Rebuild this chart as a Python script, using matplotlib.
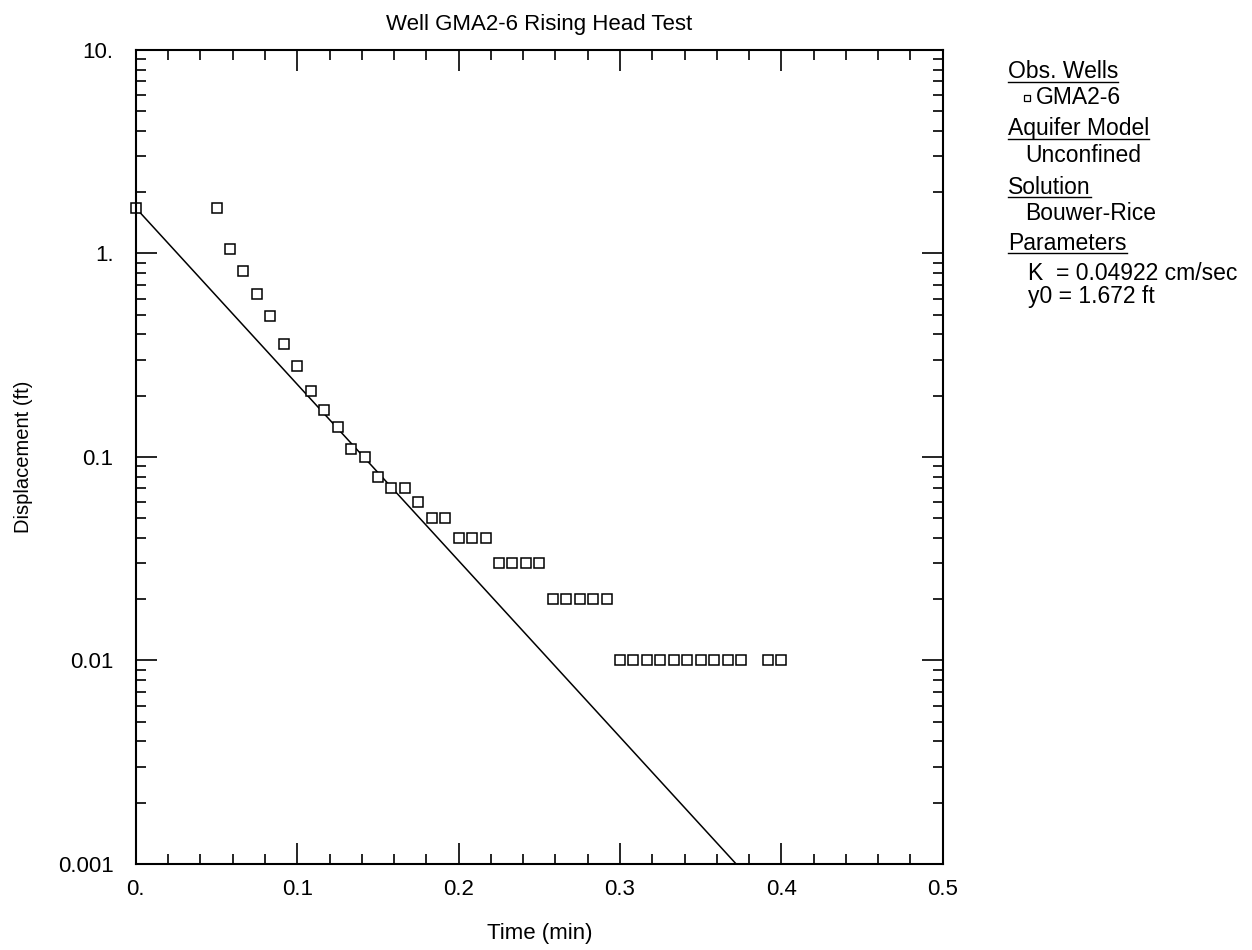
import matplotlib
matplotlib.use("Agg")
import matplotlib.pyplot as plt
from matplotlib.ticker import FixedLocator, FixedFormatter, LogLocator, NullFormatter, MultipleLocator

plt.rcParams['font.family'] = ['Liberation Sans', 'DejaVu Sans']

# datos de la prueba (tiempo en min, desplazamiento en ft)
tiempo = [0.0, 0.05, 0.0583, 0.0667, 0.075, 0.0833, 0.0917, 0.1, 0.1083, 0.1167,
          0.125, 0.1333, 0.1417, 0.15, 0.1583, 0.1667, 0.175, 0.1833, 0.1917,
          0.2, 0.2083, 0.2167, 0.225, 0.2333, 0.2417, 0.25, 0.2583, 0.2667,
          0.275, 0.2833, 0.2917, 0.3, 0.3083, 0.3167, 0.325, 0.3333, 0.3417,
          0.35, 0.3583, 0.3667, 0.375, 0.3917, 0.4]
desplazamiento = [1.672, 1.68, 1.05, 0.82, 0.63, 0.49, 0.36, 0.28, 0.21, 0.17,
                  0.14, 0.11, 0.10, 0.08, 0.07, 0.07, 0.06, 0.05, 0.05,
                  0.04, 0.04, 0.04, 0.03, 0.03, 0.03, 0.03, 0.02, 0.02,
                  0.02, 0.02, 0.02, 0.01, 0.01, 0.01, 0.01, 0.01, 0.01,
                  0.01, 0.01, 0.01, 0.01, 0.01, 0.01]

# recta de ajuste Bouwer-Rice
ajuste_t = [0.0, 0.372]
ajuste_y = [1.672, 0.001]

ticks_x = [0.0, 0.1, 0.2, 0.3, 0.4, 0.5]
etiquetas_x = ["0.", "0.1", "0.2", "0.3", "0.4", "0.5"]
ticks_y = [0.001, 0.01, 0.1, 1.0, 10.0]
etiquetas_y = ["0.001", "0.01", "0.1", "1.", "10."]

# panel derecho: (texto, subrayado, x px, y px)
panel = [("Obs. Wells", True, 1008, 72),
         ("GMA2-6", False, 1036, 98),
         ("Aquifer Model", True, 1008, 129),
         ("Unconfined", False, 1025, 155),
         ("Solution", True, 1008, 187),
         ("Bouwer-Rice", False, 1025, 214),
         ("Parameters", True, 1008, 243),
         ("K  = 0.04922 cm/sec", False, 1028, 273),
         ("y0 = 1.672 ft", False, 1028, 297)]

ANCHO, ALTO = 1252, 950

fig = plt.figure(figsize=(12.52, 9.5), dpi=100)
ax = fig.add_axes([0.1085, 0.0905, 0.6445, 0.857])

ax.plot(ajuste_t, ajuste_y, color="black", lw=1.1)
ax.plot(tiempo, desplazamiento, ls="none", marker="s", ms=6.5,
        mfc="white", mec="black", mew=1.1, clip_on=False)

ax.set_yscale("log")
ax.set_xlim(0, 0.5)
ax.set_ylim(0.001, 10)

ax.xaxis.set_major_locator(FixedLocator(ticks_x))
ax.xaxis.set_major_formatter(FixedFormatter(etiquetas_x))
ax.xaxis.set_minor_locator(MultipleLocator(0.02))
ax.yaxis.set_major_locator(FixedLocator(ticks_y))
ax.yaxis.set_major_formatter(FixedFormatter(etiquetas_y))
ax.yaxis.set_minor_locator(LogLocator(base=10, subs=range(2, 10)))
ax.yaxis.set_minor_formatter(NullFormatter())

ax.tick_params(which="both", direction="in", top=True, right=True,
               labelsize=16, width=1.2)
ax.tick_params(which="major", length=15)
ax.tick_params(which="minor", length=7.5)
ax.tick_params(axis="x", which="major", pad=11)
ax.tick_params(axis="y", which="major", pad=16)
for s in ax.spines.values():
    s.set_linewidth(1.5)

ax.set_xlabel("Time (min)", fontsize=16, labelpad=16)
ax.set_ylabel("Displacement (ft)", fontsize=14.5, labelpad=18)
ax.set_title("Well GMA2-6 Rising Head Test", fontsize=16, pad=14)

for texto, subrayado, xp, yp in panel:
    t = fig.text(xp / ANCHO, 1 - yp / ALTO, texto, fontsize=16.5,
                 va="center", ha="left")
    if subrayado:
        fig.canvas.draw()
        bb = t.get_window_extent()
        yl = 1 - (yp + 10) / ALTO
        fig.add_artist(plt.Line2D([bb.x0 / ANCHO, bb.x1 / ANCHO], [yl, yl],
                                  color="black", lw=1.0))

# simbolo del pozo en el panel
fig.add_artist(plt.Line2D([1027 / ANCHO], [1 - 98 / ALTO], ls="none", marker="s",
                          ms=5, mfc="white", mec="black", mew=0.9))

fig.savefig("out.png", dpi=100)
